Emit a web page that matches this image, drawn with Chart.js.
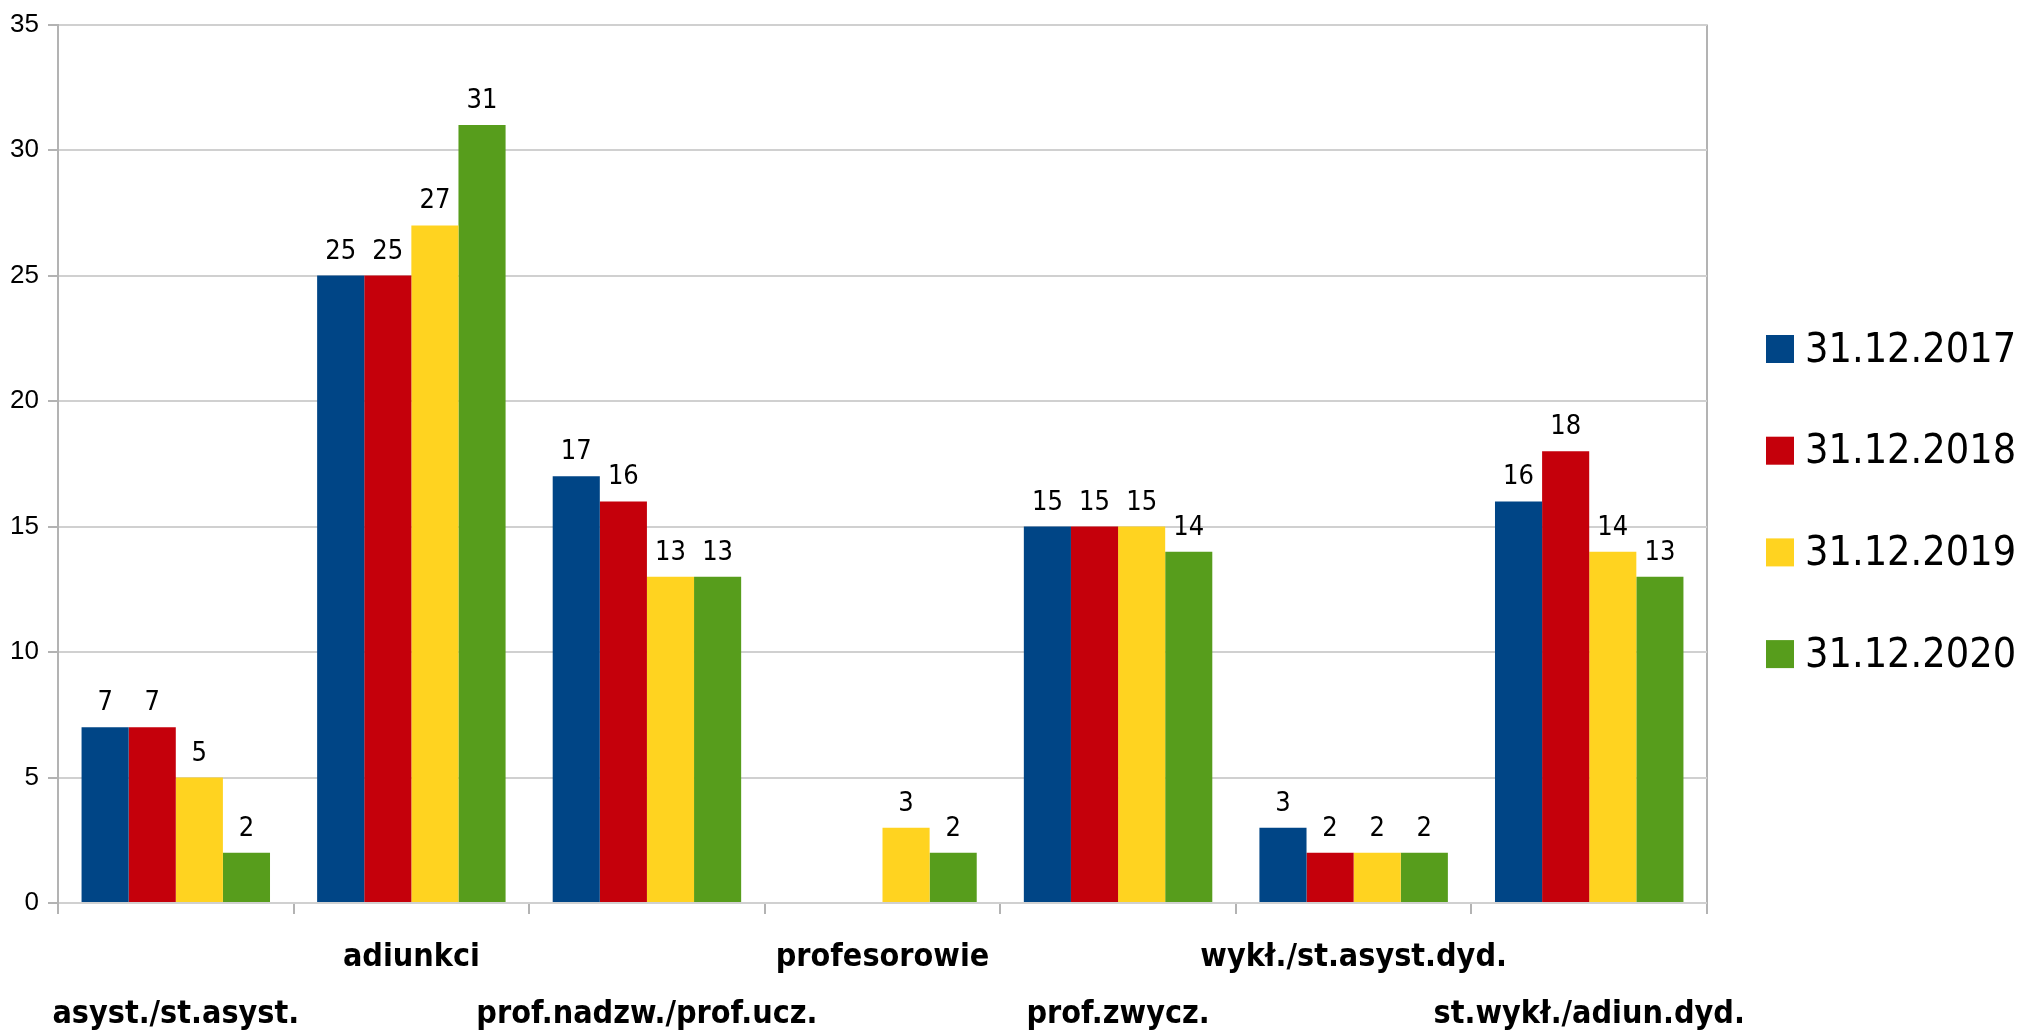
<!DOCTYPE html>
<html>
<head>
<meta charset="utf-8">
<script src="https://cdn.jsdelivr.net/npm/chart.js@4.4.0/dist/chart.umd.min.js"></script>
<style>
  html, body { margin: 0; padding: 0; background: #fff; }
</style>
</head>
<body>
<canvas id="staffChart" width="2023" height="1035"></canvas>
<script>
const categories = ['asyst./st.asyst.', 'adiunkci', 'prof.nadzw./prof.ucz.', 'profesorowie', 'prof.zwycz.', 'wykł./st.asyst.dyd.', 'st.wykł./adiun.dyd.'];
const series2017 = [7, 25, 17, null, 15, 3, 16];
const series2018 = [7, 25, 16, null, 15, 2, 18];
const series2019 = [5, 27, 13, 3, 15, 2, 14];
const series2020 = [2, 31, 13, 2, 14, 2, 13];
const seriesLabels = ['31.12.2017', '31.12.2018', '31.12.2019', '31.12.2020'];
const seriesColors = ['#004586', '#c5000b', '#ffd320', '#579d1c'];
const yMin = 0, yMax = 35, yStep = 5;

const condensed = "'Liberation Sans Narrow', 'DejaVu Sans Condensed', sans-serif";
const lineColor = '#b3b3b3';

// numbers above bars
const valueLabels = {
    id: 'valueLabels',
    afterDatasetsDraw(chart) {
        const ctx = chart.ctx;
        ctx.save();
        ctx.font = '27px ' + condensed;
        ctx.fillStyle = '#000';
        ctx.textAlign = 'center';
        ctx.textBaseline = 'alphabetic';
        chart.data.datasets.forEach((ds, i) => {
            chart.getDatasetMeta(i).data.forEach((bar, j) => {
                if (ds.data[j] == null) return;
                ctx.fillText(ds.data[j], bar.x, bar.y - 17);
            });
        });
        ctx.restore();
    }
};

// legend on the right, drawn by hand
const sideLegend = {
    id: 'sideLegend',
    afterDraw(chart) {
        const ctx = chart.ctx;
        const boxX = 1766, box = 28, textX = 1805;
        const firstY = 349, step = 101.7;
        ctx.save();
        ctx.font = '41px ' + condensed;
        ctx.textBaseline = 'middle';
        ctx.textAlign = 'left';
        chart.data.datasets.forEach((ds, i) => {
            const cy = firstY + i * step;
            ctx.fillStyle = ds.backgroundColor;
            ctx.fillRect(boxX, cy - box / 2, box, box);
            ctx.fillStyle = '#000';
            ctx.fillText(ds.label, textX, cy + 2);
        });
        ctx.restore();
    }
};

const allSeries = [series2017, series2018, series2019, series2020];

new Chart(document.getElementById('staffChart'), {
    type: 'bar',
    data: {
        labels: categories,
        datasets: allSeries.map((vals, i) => ({
            label: seriesLabels[i],
            data: vals,
            backgroundColor: seriesColors[i],
            borderWidth: 0,
            categoryPercentage: 0.8,
            barPercentage: 1.0
        }))
    },
    options: {
        responsive: false,
        animation: false,
        layout: { padding: { top: 23, right: 316, bottom: 0, left: 0 } },
        plugins: {
            legend: { display: false },
            tooltip: { enabled: false }
        },
        scales: {
            x: {
                afterFit: (s) => { s.height = 132; },
                grid: {
                    offset: true,
                    drawTicks: true,
                    tickLength: 11,
                    color: (c) => (c.index === 0 || c.index === undefined) ? lineColor : 'rgba(0,0,0,0)',
                    tickColor: lineColor,
                    lineWidth: 2
                },
                border: { display: false },
                ticks: {
                    autoSkip: false,
                    maxRotation: 0,
                    padding: 15,
                    color: '#000',
                    font: { family: condensed, size: 32, weight: 'bold', lineHeight: 1.78 },
                    callback: (value, index) => index % 2 === 0 ? ['', categories[index]] : categories[index]
                }
            },
            y: {
                min: yMin,
                max: yMax,
                afterFit: (s) => { s.width = 58; },
                border: { display: true, color: lineColor, width: 2 },
                grid: {
                    color: '#d0d0d0',
                    lineWidth: 2,
                    drawTicks: true,
                    tickLength: 10,
                    tickColor: lineColor
                },
                ticks: {
                    stepSize: yStep,
                    padding: 9,
                    color: '#000',
                    font: { family: "'Liberation Sans', Arial, sans-serif", size: 26 }
                }
            }
        }
    },
    plugins: [valueLabels, sideLegend]
});
</script>
</body>
</html>
